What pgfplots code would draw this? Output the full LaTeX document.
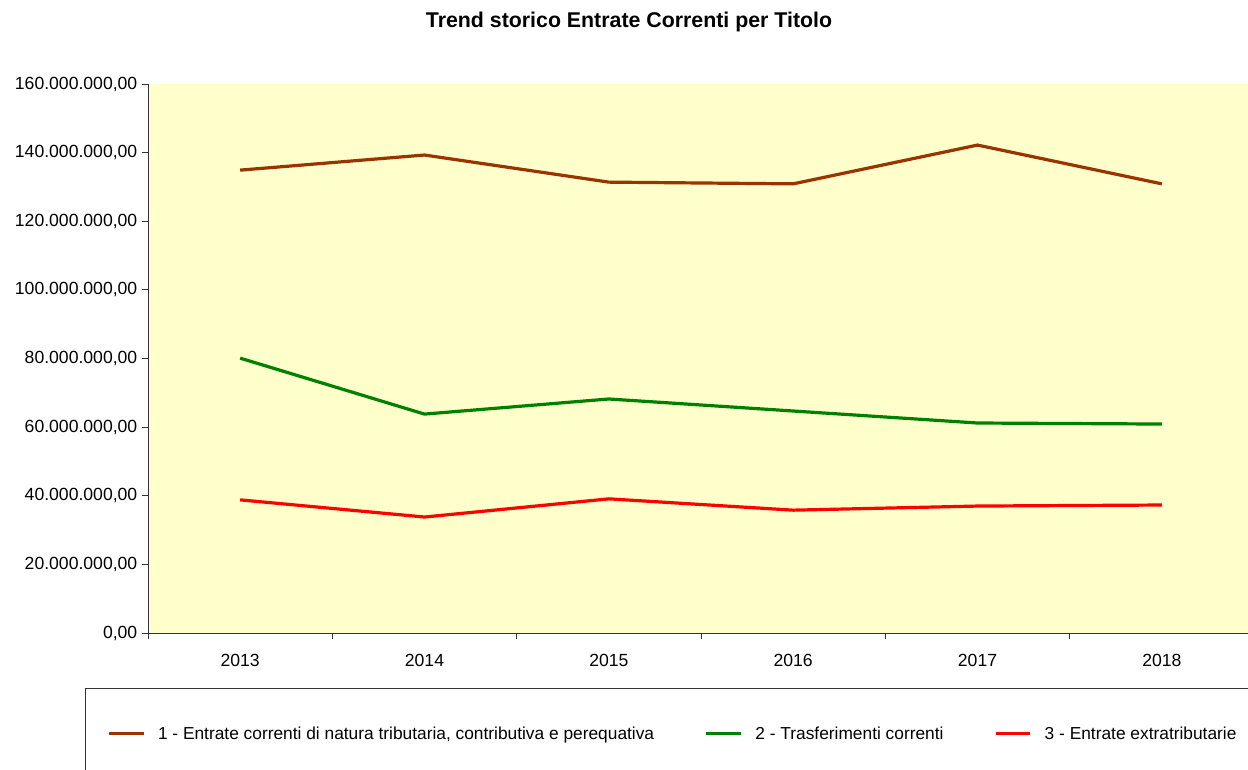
\documentclass[border=0pt]{standalone}
\usepackage{pgfplots}
\pgfplotsset{compat=1.18}
\usepackage{fontspec}
\setmainfont{Liberation Sans}
\definecolor{bgyellow}{RGB}{255,255,204}
\definecolor{s1}{RGB}{153,51,0}
\definecolor{s2}{RGB}{0,128,0}
\definecolor{s3}{RGB}{255,0,0}
\begin{document}
\begin{tikzpicture}[x=0.75pt,y=0.75pt]
\useasboundingbox (0,0) rectangle (1248,769);
\node[font=\bfseries\fontsize{16}{18}\selectfont] at (629,747) {Trend storico Entrate Correnti per Titolo};
\draw[black!80, line width=0.75pt] (85,-10) -- (85,81) -- (1260,81);
\begin{axis}[
  at={(111pt,102pt)}, anchor=south west,
  scale only axis, width=829.5pt, height=411.75pt,
  xmin=-0.5, xmax=5.5, ymin=0, ymax=160000000,
  axis x line*=bottom, axis y line*=left,
  axis line style={black!80, line width=0.75pt, -},
  axis background/.style={fill=bgyellow},
  xtick={0,1,2,3,4,5},
  xticklabels={2013,2014,2015,2016,2017,2018},
  major x tick style={draw=none},
  minor xtick={-0.5,0.5,1.5,2.5,3.5,4.5,5.5},
  ytick={0,20000000,40000000,60000000,80000000,100000000,120000000,140000000,160000000},
  tick align=outside,
  major tick length=4.5pt, minor tick length=4.5pt,
  tick style={black!80, line width=0.75pt},
  scaled y ticks=false,
  ticklabel style={font=\fontsize{13.2}{15}\selectfont},
  yticklabel style={/pgf/number format/.cd, fixed, fixed zerofill, precision=2, use comma, 1000 sep={.}, assume math mode=true},
  xticklabel style={yshift=-8pt},
  clip=false,
  legend columns=3,
  legend style={at={(-0.0405,-0.1835)}, anchor=west, draw=none, fill=none,
    font=\fontsize{13}{15}\selectfont,
    /tikz/every odd column/.append style={column sep=7.5pt},
    /tikz/every even column/.append style={column sep=36pt}},
  legend image code/.code={\draw[#1, line width=2.4pt] (0pt,0pt) -- (26pt,0pt);},
]
\addplot[s1, line width=2.4pt] coordinates {(0,134900000) (1,139300000) (2,131400000) (3,130900000) (4,142200000) (5,130900000)};
\addlegendentry{1 - Entrate correnti di natura tributaria, contributiva e perequativa}
\addplot[s2, line width=2.4pt] coordinates {(0,80100000) (1,63800000) (2,68200000) (3,64700000) (4,61200000) (5,60900000)};
\addlegendentry{2 - Trasferimenti correnti}
\addplot[s3, line width=2.4pt] coordinates {(0,38800000) (1,33800000) (2,39100000) (3,35800000) (4,37000000) (5,37300000)};
\addlegendentry{3 - Entrate extratributarie}
\end{axis}
\end{tikzpicture}
\end{document}
